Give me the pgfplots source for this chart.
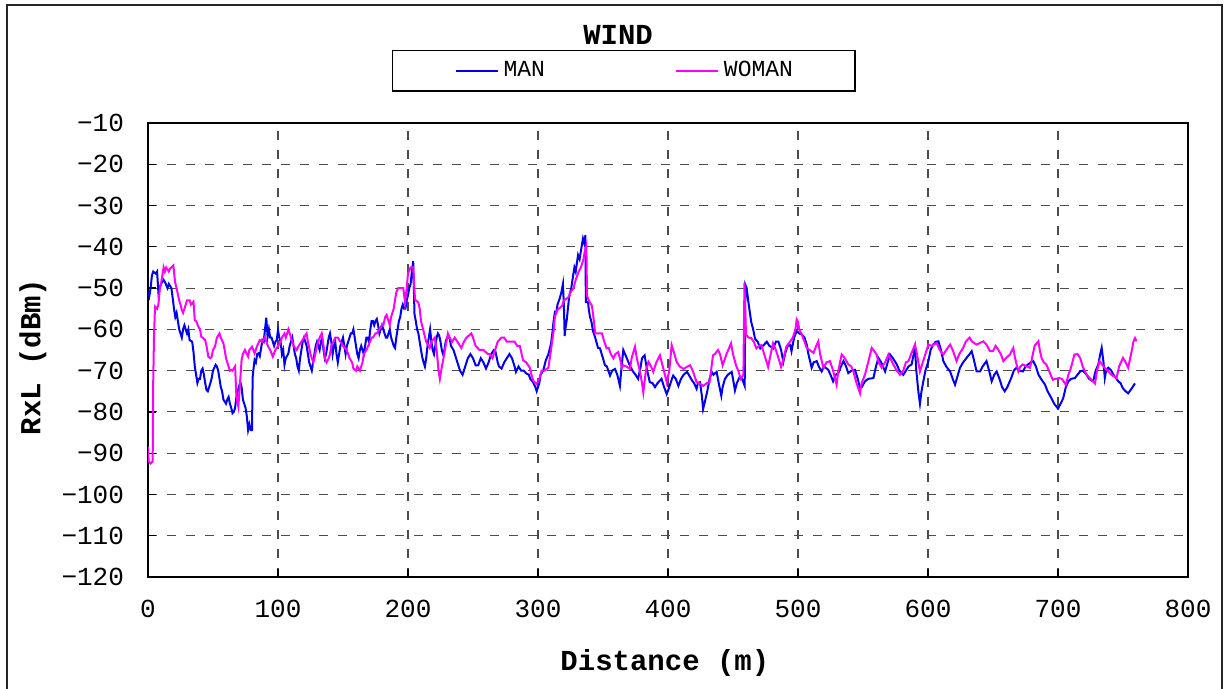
\documentclass[border=0pt]{standalone}
\usepackage{pgfplots}
\pgfplotsset{compat=1.18}
\usepackage{fontspec}
\setmainfont{Liberation Mono}
\setmonofont{Liberation Mono}
\definecolor{manblue}{RGB}{0,0,235}
\definecolor{womanpink}{RGB}{255,0,255}
\begin{document}
\begin{tikzpicture}
\draw[line width=1pt,black!85] (3.3pt,-2pt) -- (3.3pt,342pt) -- (611pt,342pt) -- (611pt,-2pt);
\begin{axis}[
  at={(74pt,56pt)}, anchor=south west,
  scale only axis, width=520pt, height=227pt,
  xmin=0, xmax=800, ymin=-120, ymax=-10,
  xtick={0,100,...,800},
  ytick={-120,-110,-100,-90,-80,-70,-60,-50,-40,-30,-20,-10},
  yticklabels={−120,−110,−100,−90,−80,−70,−60,−50,−40,−30,−20,−10},
  xticklabels={0,100,200,300,400,500,600,700,800},
  tick label style={font=\fontsize{13}{15}\selectfont},
  xticklabel style={yshift=-8pt},
  yticklabel style={xshift=-8.5pt},
  xtick pos=bottom, ytick pos=left, tick align=inside,
  major tick length=4pt,
  tick style={black, line width=0.6pt},
  axis line style={black, line width=1pt},
  grid=major,
  major grid style={black!70, dash pattern=on 4.5pt off 5pt, line width=0.55pt},
  xlabel={\textbf{Distance (m)}},
  ylabel={\textbf{RxL (dBm)}},
  label style={font=\fontsize{14.5}{16}\selectfont},
  xlabel style={at={(axis description cs:0.497,-0.189)}, anchor=center},
  ylabel style={at={(axis description cs:-0.1106,0.4846)}, anchor=center, rotate=0},
  title={\textbf{WIND}},
  title style={at={(axis description cs:0.452,1.1676)}, anchor=center, font=\fontsize{14.5}{16}\selectfont},
  legend columns=2,
  legend image code/.code={\draw[#1] (0pt,0pt) -- (21pt,0pt);},
  legend style={at={(axis description cs:0.2346,1.1608)}, anchor=north west,
    draw=black, line width=0.6pt, fill=white,
    inner xsep=31pt, inner ysep=5.5pt,
    font=\fontsize{11.5}{13}\selectfont,
    nodes={inner sep=0pt},
    /tikz/every odd column/.append style={column sep=2.5pt},
    /tikz/every even column/.append style={column sep=65pt}},
]
\addplot[manblue, line width=1pt] coordinates {
(0,-51) (1,-52) (2,-50) (3,-47) (4,-46) (6,-46.5) (7,-46) (8,-51) (9,-50) (10,-49) (12,-48) (13,-48.5) (15,-50) (16,-49) (18,-50) (19,-52.4) (20,-55) (21,-57) (22,-56) (23,-58) (24,-60) (25,-61) (26,-62) (27,-60) (28,-59) (30,-61) (31,-60) (32,-62.6) (34,-63) (35,-65.5) (36,-69) (37,-71) (38,-73) (39,-72) (40,-72) (41,-70) (42,-69.5) (43,-71) (44,-73) (45,-74.7) (46,-75) (47,-74) (48,-73) (49,-71.8) (50,-70) (52,-68.6) (53,-69) (54,-70) (55,-72) (56,-74) (57,-75) (58,-77) (59,-77.5) (60,-78) (61,-77) (62,-76.4) (63,-78) (64,-79) (65,-80.3) (66,-80) (67,-79) (68,-76.4) (69,-75) (71,-72.8) (72,-74) (73,-77) (74,-78) (75,-79) (76,-81) (77,-84.4) (78,-83) (79,-84.4) (80,-84.4) (80.5,-71.6) (81,-70) (82,-67.4) (83,-68) (84,-66) (85,-65.8) (86,-66.5) (88,-62.6) (89,-63) (90,-60) (91,-57.2) (92,-61.8) (93,-60) (94,-62) (95,-62) (96,-63) (97,-64) (98,-63) (99,-62.6) (100,-60.2)
(101,-62) (102,-63) (103,-66) (104,-65) (105,-68.6) (106,-67) (108,-65.8) (109,-64) (110,-63) (111,-62) (112,-64) (113,-66) (114,-67) (115,-69) (116,-70) (117,-67) (118,-65) (119,-63) (120,-62) (121,-63) (122,-64) (123,-66) (124,-68) (125,-69) (126,-70) (127,-68) (128,-66) (129,-64) (130,-63) (131,-64) (132,-65) (133,-63) (134,-62) (135,-65) (136,-67) (137,-66) (138,-64) (139,-62) (140,-61) (141,-63) (142,-66) (143,-64) (144,-63) (145,-66) (146,-68) (147,-66) (148,-64) (149,-63) (150,-62) (151,-64) (152,-66) (153,-64) (154,-63) (155,-62) (156,-61) (157,-61) (158,-60) (159,-62) (160,-64) (161,-66) (162,-67) (163,-65) (164,-64) (165,-65) (166,-66) (167,-64) (168,-62) (169,-62) (170,-63) (171,-60) (172,-58) (173,-58) (174,-59) (175,-58) (176,-57.5) (177,-59) (178,-61) (179,-60) (180,-59) (181,-60) (182,-61) (183,-62) (184,-62) (185,-61) (186,-60) (187,-62) (188,-63) (189,-64) (190,-64.5) (191,-62) (192,-60) (193,-58) (194,-57) (195,-55) (196,-54) (197,-55) (198,-55) (199,-53) (200,-51.7)
(201,-50) (202,-49) (203,-46) (204,-43.5) (205,-56.3) (206,-58) (207,-60) (208,-61) (209,-63) (210,-65) (211,-66.8) (212,-68) (213,-69) (214,-67) (215,-64) (216,-62) (217,-60) (218,-63) (219,-65) (220,-66) (221,-64) (222,-62) (223,-61) (224,-61.5) (225,-63) (226,-65) (227,-66) (228,-65) (229,-63) (230,-62) (232,-62) (233,-64) (235,-65) (236,-66) (238,-68) (240,-70) (242,-71) (244,-69) (246,-67) (248,-66) (250,-67) (252,-68.7) (254,-68.7) (256,-67) (258,-68) (260,-69.5) (262,-68) (264,-66) (266,-65) (267,-65) (269,-68) (270,-69) (272,-69.5) (274,-68) (276,-67) (278,-66) (280,-67) (282,-69) (283,-70.3) (285,-69) (287,-70) (289,-70) (291,-70.7) (293,-71) (294,-72) (296,-72.7) (298,-74) (299,-75) (300,-74)
(301,-73) (302,-71) (304,-70) (306,-67.5) (308,-66) (310,-63.5) (311,-61) (312,-58) (313,-55.8) (314,-56) (315,-54) (316.7,-52.5) (318,-51) (319.2,-49) (320,-55) (320.5,-61.6) (321,-60) (322,-58) (323,-55) (324,-52) (325.6,-50) (327,-47) (328,-45) (329,-46) (330.8,-42) (332,-43) (333,-41) (334.6,-38) (335.5,-39) (336.5,-37.2) (336.8,-53.4) (338.5,-53.4) (339,-55) (340,-57) (341,-58) (342.4,-60.5) (344,-62) (346.2,-64.5) (347.7,-64.6) (349,-66) (350,-67) (351.5,-68.7) (353,-69) (355.4,-71.2) (357,-70) (359.2,-69.6) (361,-71) (363,-73.7) (364,-70) (365.6,-65) (367,-66) (369.5,-67.9) (371,-69) (373.3,-70.3) (375,-71) (377,-72) (379,-69) (380,-67) (382,-66.3) (384,-70) (386,-72.8) (388,-73) (390,-74) (392,-73) (395,-72) (397,-74) (399,-75.7)
(401,-74) (403,-72) (404,-71.2) (406,-72) (408,-73.7) (410,-72) (412,-71) (414.6,-70.3) (416,-71) (418.5,-72.4) (420,-73) (422,-74.4) (423,-73) (424.6,-72.8) (426,-76) (427,-79.3) (428,-78) (430,-75.3) (432,-72) (433.6,-70.3) (435,-71) (437.4,-70.3) (439,-73) (441,-76.1) (442,-74) (443.8,-72) (446,-71) (449,-70.3) (450,-72) (451.5,-74.8) (453,-73) (455,-71.6) (457,-72) (459,-73.7) (459.5,-49.2) (460.5,-50) (461.8,-53.3) (463,-56) (464,-58.2) (465.5,-60) (467,-62.3) (469,-63) (471,-64.6) (473,-64) (476,-63) (478,-64) (481,-64.6) (483,-63) (485,-63) (487,-65) (488.7,-67.9) (490,-66) (492,-64) (494,-63.8) (495,-65.3) (497,-62) (499,-60.4)
(501,-61) (502.8,-61.2) (505,-62) (506.7,-63.7) (508,-66) (510.5,-69.3) (512,-68) (514.4,-67.7) (516,-69) (518.2,-70.2) (520,-69) (523.3,-69.8) (525,-71) (527,-72.6) (529,-71) (531,-70.6) (533,-69) (535,-67.7) (537,-69) (538.7,-70.6) (541,-70) (543.8,-69.8) (546,-72) (547.7,-74.3) (549,-74) (551.5,-72.6) (554,-72) (558,-71.8) (560,-69) (561.8,-66.9) (564,-68) (567,-70.2) (569,-68) (570.8,-66.1) (573,-67) (576,-68.5) (578,-70) (581,-71) (583,-70) (585,-69) (587.4,-68.5) (589,-66) (590,-64.5) (591,-70) (592.6,-75.1) (593.8,-78) (595,-75) (596.4,-72.6) (598,-70)
(600.3,-67.7) (602,-65) (604,-63.7) (606,-63) (608,-62.9) (610,-65) (611.8,-67.7) (614,-69) (617,-70.2) (619,-72) (620.8,-73.4) (623,-71) (624.6,-69.3) (627,-68) (629.7,-66.9) (632,-66) (633.6,-65.3) (635,-67) (637.4,-70.2) (640,-70.2) (642,-69) (645,-67.7) (647,-70) (649,-72.6) (651,-71) (652.8,-70.2) (655,-72) (657,-74) (659,-75) (661,-74) (664,-71.8) (666,-70) (668,-69.3) (670,-70) (673,-70.2) (675,-69) (677,-68.5) (679,-68) (681,-67.7) (683,-69) (685,-71) (687,-72) (690,-73.4) (692,-75) (695,-76.7) (697,-78) (700,-79.2)
(702,-78) (704,-76.7) (706,-74) (708,-72.6) (710,-72) (713,-71.8) (715,-71) (717,-70.2) (719,-70) (722,-71) (724,-72) (727,-72.6) (729,-70) (731,-68.5) (732.5,-66) (733.6,-64.5) (735,-68) (736,-71.8) (737,-70) (738.7,-69.3) (741,-70) (742.6,-71) (745,-72) (746.4,-72.6) (748,-73) (750,-74.3) (752,-75) (754,-75.5) (756.7,-74.3) (759.2,-73.1)
};
\addlegendentry{MAN}
\addplot[womanpink, line width=1pt] coordinates {
(0,-88.5) (0.5,-92) (2,-92.5) (3.6,-92) (4,-73) (4.6,-62) (5.4,-54.5) (7,-55) (8,-54) (9,-50.5) (10,-49) (11,-47) (12,-45) (13,-46) (14,-45) (15,-45.5) (16,-46) (17,-45.3) (18,-45) (19.5,-44.5) (20.8,-48.5) (22,-50) (23.3,-52) (24,-53) (25,-54) (26,-55.3) (27,-56) (28.5,-54.5) (30,-53) (32,-53) (33,-54) (35,-53.3) (36,-57.8) (37,-58) (38.7,-59.3) (40,-60) (41,-61.8) (42,-62) (44,-62.6) (45,-64) (46.4,-66.6) (48,-67) (49,-66.6) (50,-65) (51.5,-64.2) (53,-62) (55,-61) (56,-62) (58,-63.4) (59,-65) (60,-67) (62,-69) (63,-70) (64.4,-69.8) (65,-70) (67,-69) (68,-76.3) (69.5,-78.7) (70.8,-73) (72,-67.4) (73,-66) (74.6,-65) (76,-66) (77,-66.6) (78,-65) (80,-64.2) (81,-65) (82,-65.8) (84,-64) (86,-62.6) (88,-63) (90,-61.8) (91,-63) (92.5,-64.2) (94,-65) (96,-66.6) (98,-65) (100,-64)
(101.5,-63.5) (103,-62) (105,-61) (106,-62) (108,-60) (109,-61) (111,-63) (112,-64) (114.4,-65) (116,-64) (118,-63) (120,-62) (122,-61) (123,-63) (125,-66) (126,-67) (127.2,-68) (128,-67) (130,-64) (132,-62) (133.6,-61) (135.5,-65) (136,-67) (137.4,-68) (139,-67) (140,-66) (141,-64) (142.6,-63) (144,-62) (146,-62) (148,-63) (150,-64) (152.8,-65) (154,-66) (155,-67) (157,-68) (158,-69.5) (160,-70) (161,-69) (163,-70) (165,-68) (166,-66) (168,-65) (170.8,-63) (172,-62) (173,-62) (175,-61) (176,-61) (178,-60) (180,-59) (181,-59) (182.5,-57) (183.6,-56.5) (185,-58) (186,-59) (187,-57) (188,-56) (189,-55) (190,-53) (191,-51) (192.5,-50) (194,-50) (196.4,-50) (197.7,-53.5) (199,-50) (200,-46.5)
(202,-45) (204,-45) (205.4,-52.8) (208,-53.5) (209,-55) (210,-58) (212,-60.5) (214,-63) (216.7,-64.5) (218,-63) (220.6,-62) (222,-65) (223.5,-70) (224.5,-72) (225.5,-70) (227,-67.5) (229,-64) (230.7,-61) (232,-62) (234,-63) (235.9,-62) (238,-63) (241,-64.5) (243,-63) (245,-62) (248.7,-61) (250,-62) (252,-64) (255,-65) (258,-65) (261.5,-66) (263,-66) (265,-67) (267,-65) (269,-63) (271.8,-62) (274,-62) (276,-63) (279.5,-63) (282,-63) (284,-64) (286,-64) (288.5,-67.5) (291,-68) (293.7,-69.3) (295,-71) (296.4,-72.5) (298,-73) (299,-73.3)
(301,-72) (302.8,-70) (305,-70) (308,-69.3) (310,-65) (312,-60.4) (313,-57) (314.5,-55.5) (316,-55) (318.5,-54.3) (320,-53) (322.3,-52.5) (324,-52) (325,-51) (327.4,-50) (329,-48) (331.3,-46) (333,-45) (335,-43) (336,-41) (337.2,-39.7) (337.7,-51.8) (339,-53) (341.5,-54.3) (343,-58) (344,-61) (346,-61) (347.7,-61) (349.2,-61) (351,-63) (352.8,-64.6) (354.4,-64.5) (356,-66) (358,-67) (359.5,-66) (361.8,-65.5) (363,-67) (364.6,-69.3) (365.6,-68.7) (368,-69) (370.8,-69.6) (372,-67) (374.6,-64.2) (376,-67) (378.5,-70.3) (380,-73) (381,-75.3) (383,-70) (385,-67.9) (387,-69) (388.7,-70.3) (391,-68) (393.8,-66.3) (396,-69) (399,-72.8)
(401,-70) (402.8,-63.8) (404,-65) (406.7,-67.9) (409,-69) (412,-69.6) (415,-69) (417,-68.7) (419,-70) (422,-72.8) (424,-73) (427,-73.7) (430,-73) (432,-72.8) (434.6,-66.3) (436,-66) (438.5,-65) (440,-66) (442,-68.7) (445,-66) (448.5,-63.4) (450,-66) (452.3,-68.7) (454,-70) (456,-72) (458,-71) (458.8,-48.8) (460,-61.3) (462,-62) (464,-62.1) (466,-63) (468,-64.6) (470,-64) (471.8,-63.8) (474,-66) (477,-69.1) (479,-66) (480.8,-63.4) (483,-65) (485,-67) (487,-69.1) (489,-67) (491,-64.2) (493.8,-63) (496,-62) (498,-60) (499,-57.6) (500,-58.2)
(501,-60) (502.8,-61.2) (505,-63) (506.7,-64.5) (509,-65) (512,-65.7) (514,-64) (515.6,-62.9) (517,-66) (519.5,-69.3) (522,-68) (524.6,-67.7) (527,-70) (529.7,-73.4) (531,-70) (533.6,-66.1) (536,-67) (538.7,-68.5) (541,-69) (542.6,-70.2) (545,-73) (547.7,-75.5) (549,-73) (551.5,-71) (554,-68) (556.7,-64.5) (558,-65) (560.5,-66.1) (562,-68) (564.4,-69.3) (567,-68) (569.5,-66.1) (571,-67) (573.3,-68.5) (576,-70) (578.5,-71) (581,-70) (583,-68) (585,-67.7) (587,-66) (590,-63.7) (591.5,-66) (593.8,-70.2) (596,-68) (598,-66)
(600.3,-63.7) (603,-64) (606.7,-63.3) (609,-65) (611.8,-66.1) (614,-65) (617,-63.7) (619,-65) (622,-67.7) (624,-66) (627,-64.5) (629,-63) (632,-62) (634,-63) (637.4,-63.7) (640,-63.3) (642.6,-62.9) (645,-63.7) (647.7,-65.3) (650,-65.3) (652,-64) (654,-64.9) (656,-66) (658,-67.7) (660,-67) (663,-66.1) (665.6,-64.5) (667,-67) (669.5,-70.2) (671,-69) (673,-68.5) (676,-69) (678.5,-69.3) (680,-67) (682,-64) (684.9,-62.9) (686,-65) (687.4,-67) (689,-68) (691,-68.5) (693,-70) (696,-72.2) (698,-72)
(701,-71.8) (703,-72) (706,-73.4) (708,-71) (710,-69.3) (712.6,-66.1) (715,-66) (717,-66.9) (719,-69) (722,-71) (725,-72) (728.5,-73.1) (730,-70) (732,-67.7) (735,-69) (738.7,-70.2) (741,-71) (745,-71.8) (747,-69) (750,-66.9) (752,-68) (754,-69.3) (755.5,-67) (756.7,-65.3) (758,-63) (759.2,-62.1) (760.5,-62.9)
};
\addlegendentry{WOMAN}
\end{axis}
\pgfresetboundingbox
\useasboundingbox (0,0) rectangle (612.5pt,344.5pt);
\end{tikzpicture}
\end{document}
